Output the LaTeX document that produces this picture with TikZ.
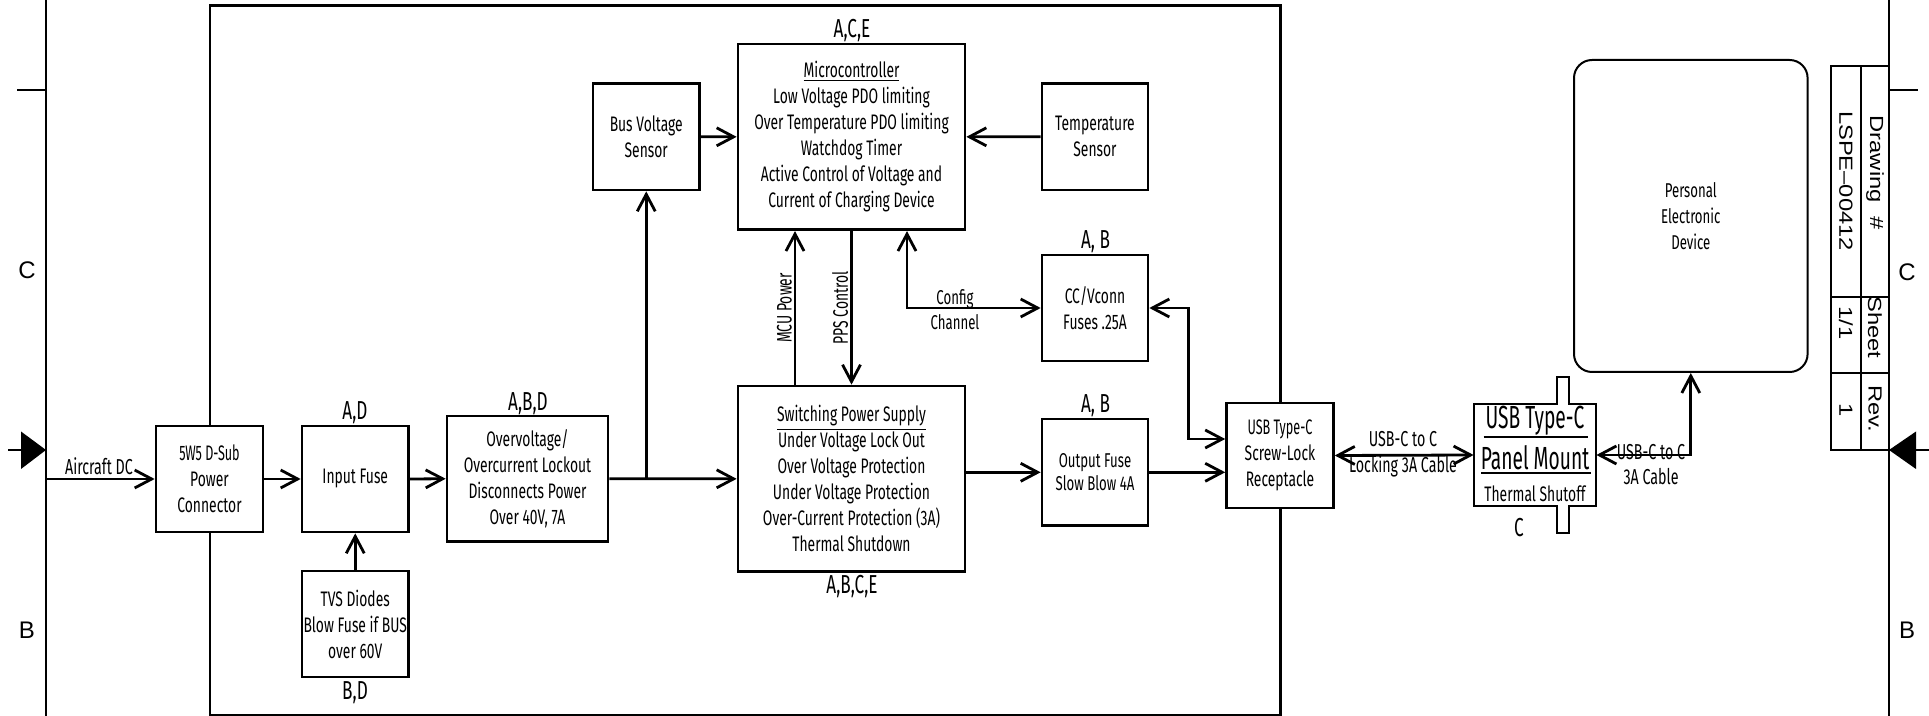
\documentclass[tikz,border=0pt]{standalone}
\usepackage{fontspec}
\setmainfont{Fira Sans}[FakeStretch=0.66]
\newfontfamily\narrowfont{Fira Sans}[FakeStretch=0.6]
\newfontfamily\tbfont{Liberation Sans}[FakeStretch=1.25]
\newfontfamily\bdfont{Liberation Sans}
\usetikzlibrary{arrows.meta}
\tikzset{
  blk/.style={draw, fill=white, line width=1.35pt, inner sep=0pt, align=center, font=\fontsize{10.5}{13}\selectfont},
  tag/.style={inner sep=0pt, font=\fontsize{13}{15}\selectfont},
  lbl/.style={inner sep=0pt, align=center, font=\fontsize{10.8}{12.8}\selectfont},
  frameline/.style={line width=1.1pt},
  conn/.style={line width=1.4pt},
  tbtext/.style={inner sep=0pt, rotate=-90, font=\tbfont\fontsize{9.5}{11}\selectfont},
  bdtext/.style={inner sep=0pt, font=\bdfont\fontsize{12}{14}\selectfont},
  bigtext/.style={inner sep=0pt, font=\narrowfont\fontsize{16}{18}\selectfont}
}
\begin{document}
\begin{tikzpicture}[x=0.5pt,y=-0.5pt,>={Straight Barb[length=8.5pt,width=9pt]}]
\fill[white] (0,0) rectangle (1929,716);
\useasboundingbox (0,0) rectangle (1929,716);
% drawing border
\draw[frameline] (46,0) -- (46,716);
\draw[frameline] (1889,0) -- (1889,716);
\draw[frameline] (17,90) -- (46,90);
\draw[frameline] (1889,90) -- (1918,90);
\fill (46,450) -- (21,431.5) -- (21,469) -- cycle;
\draw[frameline] (8,450) -- (21,450);
\fill (1889,450) -- (1916,431.5) -- (1916,469) -- cycle;
\draw[frameline] (1916,450) -- (1929,450);
\node[bdtext] (cl) at (27,270) {C};
\node[bdtext] (bl) at (27,630) {B};
\node[bdtext] (cr) at (1907,272) {C};
\node[bdtext] (br) at (1907,630) {B};
% inner frame
\draw[frameline] (210,5.5) rectangle (1280.5,714.6);
% blocks
\node[blk, minimum width=53.5pt, minimum height=53pt] (dsub) at (209.5,479) {{\narrowfont\fontsize{10.5}{13}\selectfont 5W5 D-Sub}\\Power\\Connector};
\node[blk, minimum width=53.25pt, minimum height=53pt] (infuse) at (355.25,479) {Input Fuse};
\node[blk, minimum width=53.25pt, minimum height=53pt] (tvs) at (355.25,624) {TVS Diodes\\Blow Fuse if BUS\\over 60V};
\node[blk, minimum width=80.5pt, minimum height=62.75pt] (ovp) at (527.5,478.75) {Overvoltage/\\Overcurrent Lockout\\Disconnects Power\\Over 40V, 7A};
\node[blk, minimum width=53.25pt, minimum height=53.2pt] (bus) at (646.25,136.8) {Bus Voltage\\Sensor};
\node[blk, minimum width=113.5pt, minimum height=92.85pt] (mcu) at (851.5,136.85) {\underline{Microcontroller}\\Low Voltage PDO limiting\\Over Temperature PDO limiting\\Watchdog Timer\\Active Control of Voltage and\\Current of Charging Device};
\node[blk, minimum width=53pt, minimum height=53.2pt] (temp) at (1095,136.8) {Temperature\\Sensor};
\node[blk, minimum width=53pt, minimum height=53pt] (ccv) at (1095,308) {CC/Vconn\\Fuses .25A};
\node[blk, minimum width=113.5pt, minimum height=92.85pt] (sps) at (851.5,478.85) {\underline{Switching Power Supply}\\Under Voltage Lock Out\\Over Voltage Protection\\Under Voltage Protection\\Over-Current Protection (3A)\\Thermal Shutdown};
\node[blk, minimum width=53pt, minimum height=53.3pt, font=\fontsize{10}{11.5}\selectfont] (ofuse) at (1095,472.3) {Output Fuse\\Slow Blow 4A};
\node[blk, minimum width=53.45pt, minimum height=52.5pt] (usb) at (1280,455.5) {{\narrowfont\fontsize{10.5}{13}\selectfont USB Type-C}\\Screw-Lock\\Receptacle};
% panel mount
\node[minimum width=61pt, minimum height=51pt, inner sep=0pt] (panel) at (1535,455) {};
\draw[line width=0.9pt] (1474,404) -- (1557,404) -- (1557,376.7) -- (1569,376.7) -- (1569,404) -- (1596,404)
  -- (1596,506) -- (1569,506) -- (1569,533) -- (1557,533) -- (1557,506) -- (1474,506) -- cycle;
\node[bigtext] (pm1) at (1535,421) {USB Type-C};
\node[bigtext] (pm2) at (1535,457.5) {Panel Mount};
\node[inner sep=0pt, font=\fontsize{10.5}{13}\selectfont] (pm3) at (1535,494) {Thermal Shutoff};
\draw[line width=1pt] (1483.6,437.4) -- (1588,437.4);
\draw[line width=1pt] (1481,473) -- (1590.5,473);
% personal electronic device
\node[draw, rounded corners=9pt, line width=1pt, inner sep=0pt, align=center, minimum width=116.8pt, minimum height=156pt, font=\fontsize{10}{13}\selectfont] (ped) at (1690.8,216) {Personal\\Electronic\\Device};
% title block
\draw[line width=1pt] (1831,66) rectangle (1889,450);
\draw[line width=1pt] (1860.6,66) -- (1860.6,450);
\draw[line width=1pt] (1831,297) -- (1889,297);
\draw[line width=1pt] (1831,373.5) -- (1889,373.5);
\node[tbtext] (tb1) at (1875,172.5) {Drawing\ \ \#};
\node[tbtext] (tb2) at (1846,181) {LSPE–00412};
\node[tbtext] (tb3) at (1875,327.5) {Sheet};
\node[tbtext] (tb4) at (1846,323) {1/1};
\node[tbtext] (tb5) at (1875,409) {Rev.};
\node[tbtext] (tb6) at (1846,410) {1};
% block tags
\node[tag] (t1) at (355,413) {A,D};
\node[tag] (t2) at (355,693) {B,D};
\node[tag] (t3) at (528,404) {A,B,D};
\node[tag] (t4) at (852,31) {A,C,E};
\node[tag] (t5) at (1095.5,242) {A, B};
\node[tag] (t6) at (1095.5,406) {A, B};
\node[tag] (t7) at (852,587) {A,B,C,E};
\node[tag] (t8) at (1519,528) {C};
% connectors
\coordinate (acin) at (46,479);
\draw[conn,->] (acin) -- (dsub.west);
\draw[conn,->] (dsub.east) -- (infuse.west);
\draw[conn,->] (infuse.east) -- (ovp.west);
\draw[conn,->] (ovp.east) -- (sps.west);
\draw[conn,->] (bus.south |- ovp.east) -- (bus.south);
\draw[conn,->] (tvs.north) -- (infuse.south);
\draw[conn,->] (bus.east) -- (mcu.west);
\draw[conn,->] (temp.west) -- (mcu.east);
\draw[conn,->] ([xshift=-28.25pt]sps.north) -- ([xshift=-28.25pt]mcu.south);
\draw[conn,->] (mcu.south) -- (sps.north);
\draw[conn,<->] ([xshift=27.75pt]mcu.south) |- (ccv.west);
\draw[conn,<->] (ccv.east) -- ++(19.5pt,0) |- ([yshift=8.25pt]usb.west);
\draw[conn,->] (sps.east |- ofuse.west) -- (ofuse.west);
\draw[conn,->] (ofuse.east) -- (usb.west |- ofuse.east);
\draw[conn,<->] (usb.east) -- (panel.west);
\draw[conn,<->] (ped.south) |- (panel.east);
% connector labels
\node[lbl] (l1) at (99,466.7) {Aircraft DC};
\node[lbl, font=\fontsize{10}{12.5}\selectfont] (l2) at (955,309.5) {Config\\Channel};
\node[lbl, rotate=90, font=\fontsize{10.5}{12}\selectfont] (l3) at (784.5,308) {MCU Power};
\node[lbl, rotate=90, font=\fontsize{10.5}{12}\selectfont] (l4) at (840,308) {PPS Control};
\node[lbl] (l5) at (1403,454.5) {USB-C to C\\Locking 3A Cable};
\node[lbl] (l6) at (1651,464.5) {USB-C to C\\3A Cable};
\end{tikzpicture}
\end{document}
